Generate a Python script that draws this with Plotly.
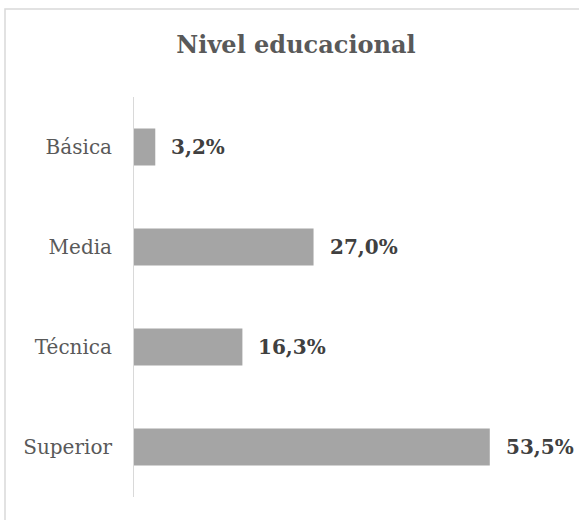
import plotly.graph_objects as go

categories = ["Básica", "Media", "Técnica", "Superior"]
values = [3.2, 27.0, 16.3, 53.5]
value_labels = ["3,2%", "27,0%", "16,3%", "53,5%"]
title_text = "Nivel educacional"

FONT = "DejaVu Serif"

fig = go.Figure()
fig.add_trace(go.Bar(
    x=values, y=categories, orientation="h",
    marker=dict(color="#A5A5A5", line=dict(width=0)),
    width=0.37, hoverinfo="skip",
))

for c, v, t in zip(categories, values, value_labels):
    fig.add_annotation(x=v, y=c, text="<b>%s</b>" % t, showarrow=False,
                       xanchor="left", xshift=14,
                       font=dict(family=FONT, size=20, color="#404040"))

fig.update_layout(
    width=579, height=520,
    margin=dict(l=134, r=46, t=97, b=23),
    paper_bgcolor="white", plot_bgcolor="white",
    showlegend=False,
    title=dict(text="<b>%s</b>" % title_text, x=296 / 579, xanchor="center",
               y=1 - 45/520, yanchor="middle",
               font=dict(family=FONT, size=24, color="#595959")),
    xaxis=dict(range=[0, 60], visible=False, fixedrange=True),
    yaxis=dict(categoryorder="array", categoryarray=categories[::-1],
               showline=True, linecolor="#D9D9D9", linewidth=1,
               showgrid=False, zeroline=False, ticks="",
               ticklabelstandoff=17, fixedrange=True,
               tickfont=dict(family=FONT, size=20, color="#595959")),
    shapes=[dict(type="rect", xref="paper", yref="paper",
                 x0=-129/399, x1=1.5, y0=-0.5, y1=1 + 88/400,
                 line=dict(color="#D9D9D9", width=1.5), layer="below")],
)

fig.write_html("out.html", config={"displayModeBar": False},
               post_script="document.body.style.margin='0';document.body.style.overflow='hidden';")
